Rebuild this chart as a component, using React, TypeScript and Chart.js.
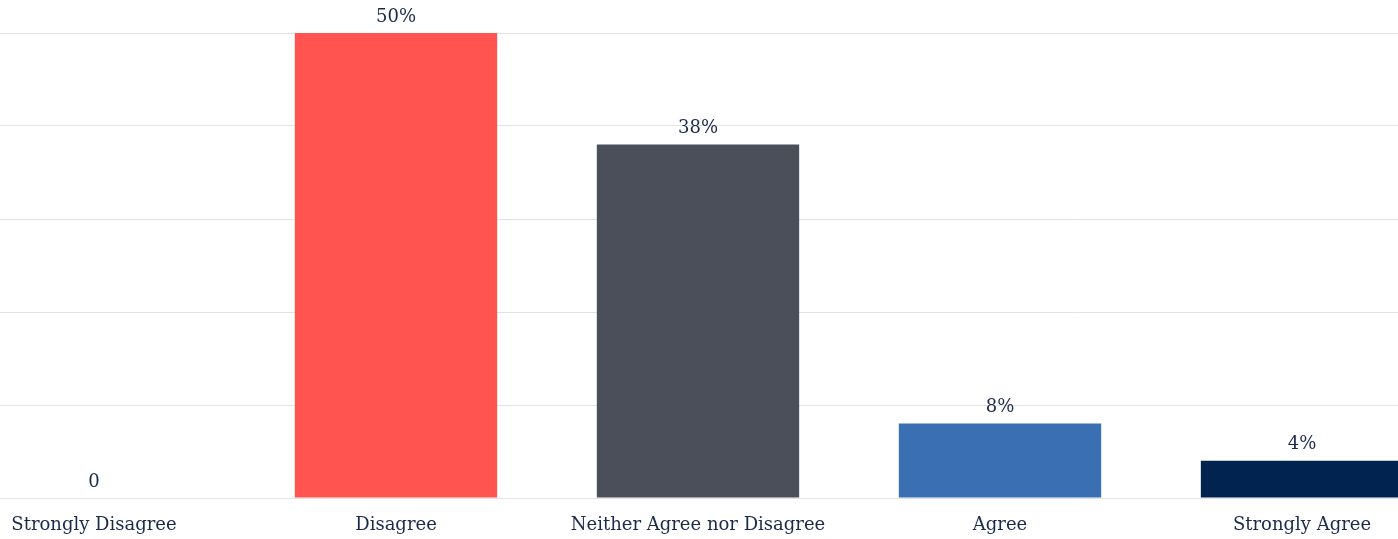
import React, { useEffect, useRef } from "react";
import { Chart, registerables } from "chart.js";

Chart.register(...registerables);

const categories = [
  "Strongly Disagree",
  "Disagree",
  "Neither Agree nor Disagree",
  "Agree",
  "Strongly Agree",
];
const percentages = [0, 50, 38, 8, 4];
const barColors = ["#ff5450", "#ff5450", "#4a4f59", "#3a6fb4", "#00234f"];
const yTicks = [0, 10, 20, 30, 40, 50];

const TEXT_COLOR = "#1b2a48";
const FONT_FAMILY = "'DejaVu Serif', 'Liberation Serif', serif";

const valueLabels = {
  id: "valueLabels",
  afterDatasetsDraw(chart: Chart) {
    const { ctx } = chart;
    const meta = chart.getDatasetMeta(0);
    ctx.save();
    ctx.fillStyle = TEXT_COLOR;
    ctx.font = `18px ${FONT_FAMILY}`;
    ctx.textAlign = "center";
    ctx.textBaseline = "bottom";
    meta.data.forEach((el: any, i: number) => {
      const v = percentages[i];
      const text = v === 0 ? "0" : `${v}%`;
      ctx.fillText(text, el.x, el.y - 7);
    });
    ctx.restore();
  },
};

export default function App() {
  const canvasRef = useRef<HTMLCanvasElement>(null);

  useEffect(() => {
    if (!canvasRef.current) return;
    const chart = new Chart(canvasRef.current, {
      type: "bar",
      data: {
        labels: categories,
        datasets: [
          {
            data: percentages,
            backgroundColor: barColors,
            borderWidth: 0,
            barPercentage: 0.67,
            categoryPercentage: 1,
          },
        ],
      },
      options: {
        animation: false,
        responsive: false,
        maintainAspectRatio: false,
        layout: { padding: { top: 33, bottom: 0, left: 0, right: 0 } },
        plugins: {
          legend: { display: false },
          tooltip: { enabled: false },
        },
        scales: {
          x: {
            grid: { display: false },
            border: { display: false },
            ticks: {
              color: TEXT_COLOR,
              font: { family: FONT_FAMILY, size: 18 },
              padding: 9,
              maxRotation: 0,
              autoSkip: false,
            },
            afterFit: (s: any) => {
              s.height = 41;
            },
          },
          y: {
            min: yTicks[0],
            max: yTicks[yTicks.length - 1],
            afterBuildTicks: (s: any) => {
              s.ticks = yTicks.map((v) => ({ value: v }));
            },
            grid: { color: "#e2e2e2", lineWidth: 1, drawTicks: false },
            border: { display: false },
            ticks: { display: false },
            afterFit: (s: any) => {
              s.width = 0;
            },
          },
        },
      },
      plugins: [valueLabels],
    });
    return () => chart.destroy();
  }, []);

  return (
    <div
      style={{
        position: "absolute",
        left: 0,
        top: 0,
        width: 1398,
        height: 539,
        overflow: "hidden",
        background: "#ffffff",
      }}
    >
      <canvas
        ref={canvasRef}
        width={1510}
        height={539}
        style={{ position: "absolute", left: -57, top: 0, width: 1510, height: 539 }}
      />
    </div>
  );
}
